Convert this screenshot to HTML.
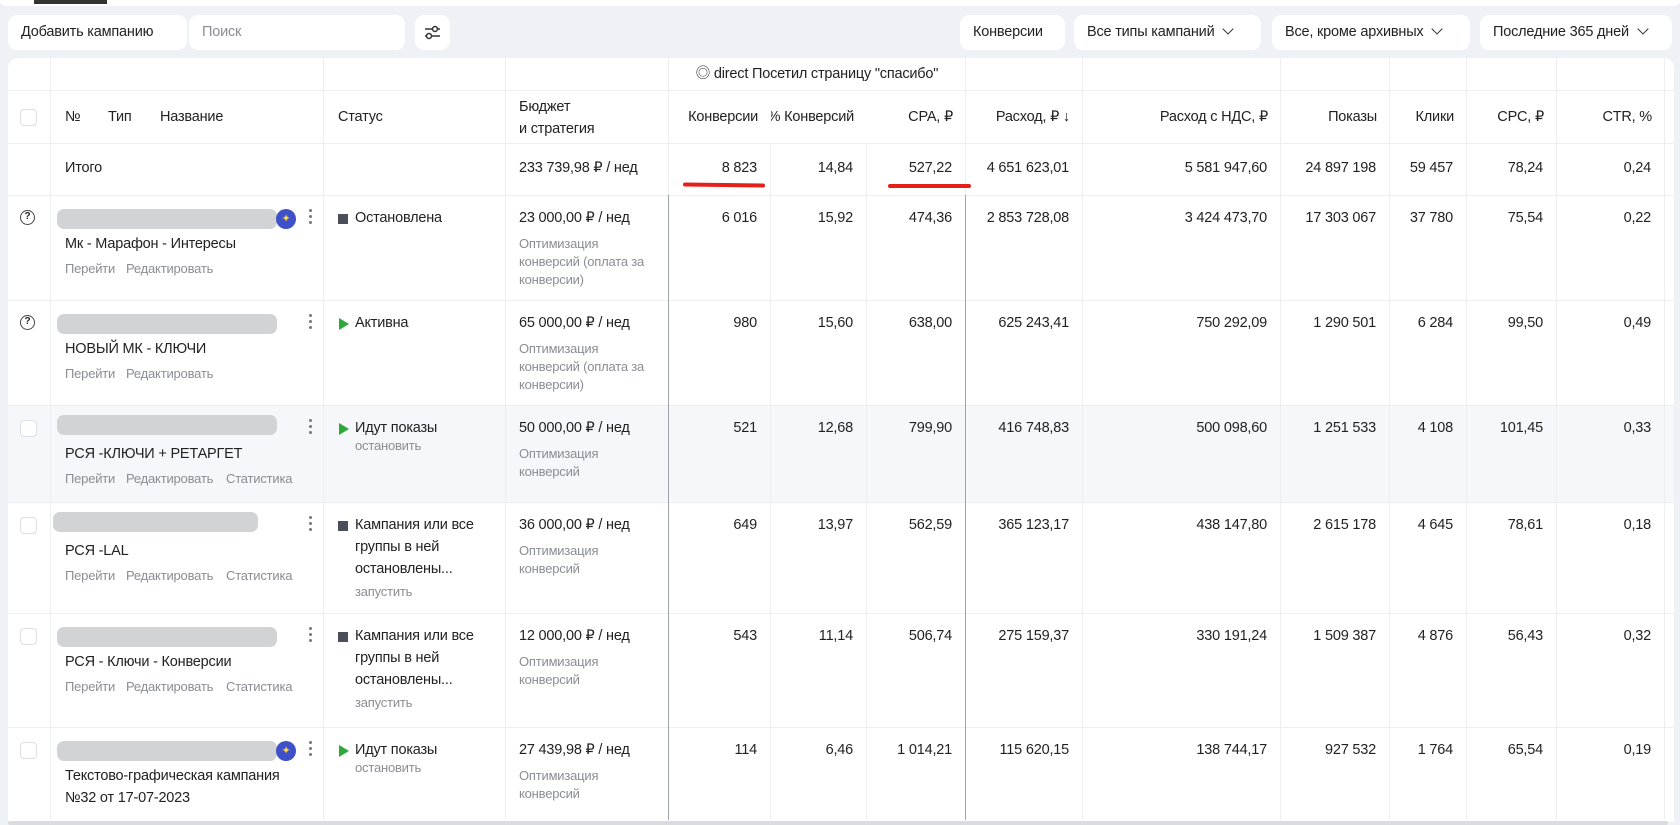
<!DOCTYPE html>
<html><head><meta charset="utf-8">
<style>
*{box-sizing:border-box;margin:0;padding:0}
body{width:1680px;height:825px;overflow:hidden;background:#eef1f5;font-family:"Liberation Sans","Noto Sans CJK SC",sans-serif;font-size:14.5px;color:#222;position:relative;letter-spacing:-0.2px}
.a{position:absolute;white-space:nowrap}
.btn{position:absolute;top:15px;height:35px;background:#fff;border-radius:9px;line-height:35px;padding:0 13px;font-size:14.5px}
.chev{display:inline-block;width:8px;height:8px;border-right:1.5px solid #333;border-bottom:1.5px solid #333;transform:rotate(45deg);margin-left:10px;position:relative;top:-3px}
#panel{position:absolute;left:8px;top:58px;width:1666px;height:764px;background:#fff;border-radius:10px 10px 0 0;overflow:hidden}
.hl{position:absolute;height:1px;background:#eceef2}
.vl{position:absolute;width:1px;background:#eceef2}
.g{color:#8a8d93}
.s{font-size:13px}
.cb{position:absolute;width:17px;height:17px;border:1px solid #dcdfe4;border-radius:4px;background:#fff}
.bar{position:absolute;height:20px;background:#d2d3d5;border-radius:7px}
.badge{position:absolute;width:20px;height:20px;border-radius:50%;background:#3f51c8;color:#ffd54a;font-size:11px;line-height:20px;text-align:center}
.dots{position:absolute;width:3px}
.dots i{display:block;width:3px;height:3px;border-radius:50%;background:#777;margin-bottom:3px}
.sq{position:absolute;width:10px;height:10px;background:#4a4e58}
.tri{position:absolute;width:0;height:0;border-left:10px solid #2ea83a;border-top:6px solid transparent;border-bottom:6px solid transparent}
.q{position:absolute;width:15px;height:15px;border:1.5px solid #444;border-radius:50%;font-size:10px;line-height:12px;text-align:center;font-weight:bold}
.r{text-align:right}
.hr{display:flex;justify-content:flex-end;overflow:hidden}
.red{position:absolute;height:4px;background:#e4201a;border-radius:3px}
</style></head><body>
<div class="a" style="left:0;top:0;width:1680px;height:6px;background:#fff;border-radius:0 0 8px 8px"></div>
<div class="a" style="left:34px;top:0;width:73px;height:4px;background:#333"></div>
<div class="btn" style="left:8px;width:179px">Добавить кампанию</div>
<div class="btn g" style="left:189px;width:216px">Поиск</div>
<div class="btn" style="left:415px;width:35px;padding:0">
<svg width="35" height="35" viewBox="0 0 35 35"><path d="M10 14h15M10 21h15" stroke="#333" stroke-width="1.5"/><circle cx="20" cy="14" r="2.5" fill="#fff" stroke="#333" stroke-width="1.5"/><circle cx="14" cy="21" r="2.5" fill="#fff" stroke="#333" stroke-width="1.5"/></svg></div>
<div class="btn" style="left:960px;width:105px">Конверсии</div>
<div class="btn" style="left:1074px;width:187px">Все типы кампаний<span class="chev"></span></div>
<div class="btn" style="left:1272px;width:198px">Все, кроме архивных<span class="chev"></span></div>
<div class="btn" style="left:1480px;width:192px">Последние 365 дней<span class="chev"></span></div>

<div id="panel"></div>

<script>
const columnEdges=[0,42,315,497,660,762,858,957,1074,1272,1381,1458,1548,1656];
const rowTops=[137,242,347,444,555,669];
const rowBottom=762;
const numHeaders=["Конверсии","% Конверсий","CPA, ₽","Расход, ₽ ↓","Расход с НДС, ₽","Показы","Клики","CPC, ₽","CTR, %"];
const totals=["8 823","14,84","527,22","4 651 623,01","5 581 947,60","24 897 198","59 457","78,24","0,24"];
const conversions=["6 016","980","521","649","543","114"];
const convPct=["15,92","15,60","12,68","13,97","11,14","6,46"];
const cpa=["474,36","638,00","799,90","562,59","506,74","1 014,21"];
const spend=["2 853 728,08","625 243,41","416 748,83","365 123,17","275 159,37","115 620,15"];
const spendVat=["3 424 473,70","750 292,09","500 098,60","438 147,80","330 191,24","138 744,17"];
const impressions=["17 303 067","1 290 501","1 251 533","2 615 178","1 509 387","927 532"];
const clicks=["37 780","6 284","4 108","4 645","4 876","1 764"];
const cpc=["75,54","99,50","101,45","78,61","56,43","65,54"];
const ctr=["0,22","0,49","0,33","0,18","0,32","0,19"];
const names=[["Мк - Марафон - Интересы"],["НОВЫЙ МК - КЛЮЧИ"],["РСЯ -КЛЮЧИ + РЕТАРГЕТ"],["РСЯ -LAL"],["РСЯ - Ключи - Конверсии"],["Текстово-графическая кампания","№32 от 17-07-2023"]];
const statuses=[["Остановлена"],["Активна"],["Идут показы"],["Кампания или все","группы в ней","остановлены..."],["Кампания или все","группы в ней","остановлены..."],["Идут показы"]];
const statusKind=["stop","play","play","stop","stop","play"];
const statusAction=["","","остановить","запустить","запустить","остановить"];
const budgets=["23 000,00 ₽ / нед","65 000,00 ₽ / нед","50 000,00 ₽ / нед","36 000,00 ₽ / нед","12 000,00 ₽ / нед","27 439,98 ₽ / нед"];
const strategies=[["Оптимизация","конверсий (оплата за","конверсии)"],["Оптимизация","конверсий (оплата за","конверсии)"],["Оптимизация","конверсий"],["Оптимизация","конверсий"],["Оптимизация","конверсий"],["Оптимизация","конверсий"]];
const linksN=[2,2,3,3,3,0];
const hasBadge=[true,false,false,false,false,true];
const leftIcon=["q","q","cb","cb","cb","cb"];

const P=document.getElementById('panel');
function el(cls,x,y,w,h,txt){const e=document.createElement('div');e.className='a '+(cls||'');e.style.left=x+'px';e.style.top=y+'px';if(w!=null)e.style.width=w+'px';if(h!=null)e.style.height=h+'px';if(txt!=null)e.textContent=txt;P.appendChild(e);return e;}

let hlr=el('',0,rowTops[2],1666,rowTops[3]-rowTops[2]);hlr.style.background='#f5f7fa';



[32,85,137].concat(rowTops.slice(1)).forEach(y=>{const l=el('hl',0,y,1666);

});
columnEdges.slice(1).forEach((x,i)=>{const l=el('vl',x,0,null,rowBottom);

});
[660,957].forEach(x=>{const l=el('',x,137,1,rowBottom-137);l.style.background='#9ea3ab';

});
let gbg=el('',661,0,296,85);gbg.style.background='#fff';


let gl=el('hl',661,32,296);


let gh=el('',661,6,296,20,'◎ direct Посетил страницу "спасибо"');gh.style.textAlign='center';gh.style.lineHeight='20px';



let hcb=el('cb',12,51,17,17);


[["№",57],["Тип",100],["Название",152]].forEach(([t,x])=>{const e=el('',x,49,null,20,t);e.style.lineHeight='20px';

});
let hs=el('',330,49,null,20,'Статус');hs.style.lineHeight='20px';


let hb=el('',511,38,null,44,'Бюджет\nи стратегия');hb.style.whiteSpace='pre';hb.style.lineHeight='22px';


numHeaders.forEach((t,i)=>{const x0=columnEdges[4+i],x1=columnEdges[5+i];const e=el('hr',x0+1,49,x1-x0-13,20);e.style.lineHeight='20px';
const sp=document.createElement('span');sp.textContent=t;sp.style.flexShrink='0';e.appendChild(sp);

});

let tt=el('',57,100,null,20,'Итого');tt.style.lineHeight='20px';


let tb=el('',511,100,null,20,'233 739,98 ₽ / нед');tb.style.lineHeight='20px';


totals.forEach((t,i)=>{const x0=columnEdges[4+i],x1=columnEdges[5+i];const e=el('r',x0,100,x1-x0-13,20,t);e.style.lineHeight='20px';

});
let r1=el('red',675,125,82,4);r1.style.transform='rotate(0.8deg)';


let r2=el('red',880,126,83,4);



const cols=[conversions,convPct,cpa,spend,spendVat,impressions,clicks,cpc,ctr];
rowTops.forEach((top,r)=>{
  if(leftIcon[r]==='q'){const e=el('q',12,top+15,15,15,'?');
    
    }
  else{const e=el('cb',12,top+15,17,17);
    
    }
  const b=el('bar',(r===3?45:49),top+(r===2||r===3?10:14),(r===3?205:220),20);
  
  
  if(hasBadge[r]){const e=el('badge',268,top+14,20,20,'✦');
    
    }
  const d=el('dots',301,top+14);d.innerHTML='<i></i><i></i><i></i>';
  
  
  names[r].forEach((n,k)=>{const e=el('',57,top+39+k*22,null,20,n);e.style.lineHeight='20px';
    
    });
  if(linksN[r]){['Перейти','Редактировать','Статистика'].slice(0,linksN[r]).forEach((t,k)=>{const e=el('g s',[57,118,218][k],top+65,null,18,t);e.style.lineHeight='18px';
    
    });}
  if(statusKind[r]==='stop'){const e=el('sq',330,top+19,10,10);
    
    }
  else{const e=el('tri',331,top+18);
    
    }
  statuses[r].forEach((t,k)=>{const e=el('',347,top+13+k*22,null,20,t);e.style.lineHeight='20px';
    
    });
  if(statusAction[r]){const e=el('g s',347,top+13+statuses[r].length*22+(statuses[r].length>1?2:-3),null,18,statusAction[r]);e.style.lineHeight='18px';
    
    }
  const bu=el('',511,top+13,null,20,budgets[r]);bu.style.lineHeight='20px';
  
  
  strategies[r].forEach((t,k)=>{const e=el('g s',511,top+40+k*18,null,18,t);e.style.lineHeight='18px';
    
    });
  cols.forEach((arr,i)=>{const x0=columnEdges[4+i],x1=columnEdges[5+i];const e=el('r',x0,top+13,x1-x0-13,20,arr[r]);e.style.lineHeight='20px';
    
    });
});
</script>
<div class="a" style="left:8px;top:821px;width:1660px;height:4px;background:#d8dbe0;border-radius:2px"></div>
</body></html>
